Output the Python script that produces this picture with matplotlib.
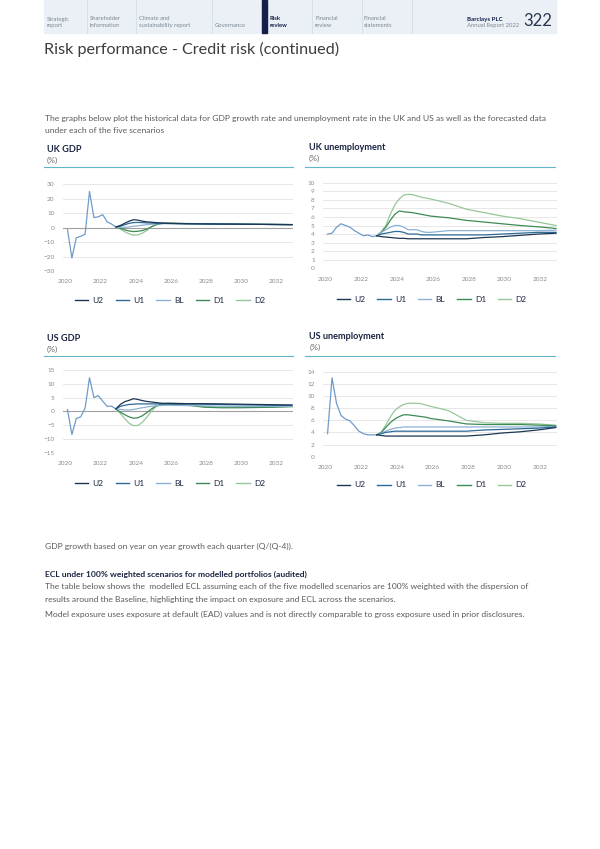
import numpy as np
import matplotlib
matplotlib.use('Agg')
import matplotlib.pyplot as plt
from matplotlib.patches import Rectangle
from matplotlib.lines import Line2D

plt.rcParams['font.family'] = ['Lato', 'DejaVu Sans']

scenarios = ['U2', 'U1', 'BL', 'D1', 'D2']
colours = {'U2': '#1c3553', 'U1': '#2d6a96', 'BL': '#8db2d6', 'D1': '#3d8a55', 'D2': '#96c799'}
hist_colour = '#6f9bc9'

# quarterly history 2020Q1-2022Q4, forecasts quarterly to 2025Q4 then yearly
hist_x = 2020.125 + 0.25 * np.arange(12)
fc_x = np.concatenate([2022.875 + 0.25 * np.arange(13), 2026.875 + np.arange(7)])

uk_gdp_hist = [-1.5, -21.0, -7.0, -6.0, -4.5, 25.0, 7.0, 7.5, 9.0, 4.0, 2.5, 0.5]
uk_gdp_u2 = [0.5, 1.5, 3.0, 4.5, 5.5, 5.2, 4.5, 4.0, 3.8, 3.5, 3.3, 3.1, 3.0, 2.7, 2.6, 2.5, 2.4, 2.3, 2.2, 2.1]
uk_gdp_u1 = [0.5, 1.0, 2.0, 3.0, 3.5, 3.6, 3.5, 3.3, 3.2, 3.0, 3.0, 2.9, 2.8, 2.7, 2.6, 2.5, 2.4, 2.3, 2.2, 2.1]
uk_gdp_bl = [0.5, 0.3, 0.2, 0.5, 1.0, 1.3, 1.7, 2.0, 2.3, 2.6, 2.8, 2.9, 2.9, 2.8, 2.7, 2.5, 2.4, 2.3, 2.2, 2.1]
uk_gdp_d1 = [0.5, -0.5, -1.5, -2.3, -2.7, -2.5, -2.0, -1.0, 0.5, 1.8, 2.6, 3.0, 3.0, 2.8, 2.7, 2.5, 2.4, 2.3, 2.2, 2.1]
uk_gdp_d2 = [0.5, -1.0, -2.8, -4.3, -5.2, -5.0, -3.8, -2.0, 0.5, 2.3, 3.0, 3.3, 3.2, 2.9, 2.7, 2.5, 2.4, 2.3, 2.2, 2.1]

uk_unemp_hist = [4.0, 4.1, 4.8, 5.2, 5.0, 4.8, 4.4, 4.1, 3.8, 3.9, 3.7, 3.8]
uk_unemp_u2 = [3.8, 3.7, 3.65, 3.6, 3.55, 3.5, 3.5, 3.45, 3.45, 3.45, 3.45, 3.45, 3.45, 3.45, 3.45, 3.6, 3.7, 3.85, 4.0, 4.1]
uk_unemp_u1 = [3.8, 4.0, 4.1, 4.2, 4.3, 4.3, 4.2, 4.0, 4.0, 4.0, 3.9, 3.9, 3.9, 3.9, 3.9, 3.9, 4.0, 4.1, 4.2, 4.2]
uk_unemp_bl = [3.8, 4.2, 4.5, 4.8, 5.0, 5.0, 4.8, 4.5, 4.5, 4.5, 4.3, 4.2, 4.2, 4.4, 4.4, 4.4, 4.4, 4.4, 4.4, 4.45]
uk_unemp_d1 = [3.8, 4.2, 4.8, 5.6, 6.3, 6.7, 6.6, 6.55, 6.5, 6.4, 6.3, 6.2, 6.1, 5.9, 5.6, 5.4, 5.2, 5.0, 4.85, 4.65]
uk_unemp_d2 = [3.8, 4.3, 5.0, 6.3, 7.4, 8.1, 8.55, 8.65, 8.6, 8.45, 8.3, 8.2, 8.1, 7.6, 6.9, 6.5, 6.1, 5.8, 5.4, 5.0]

us_gdp_hist = [0.6, -8.4, -2.6, -2.0, 1.2, 12.2, 5.0, 5.7, 3.7, 1.8, 1.9, 0.9]
us_gdp_u2 = [0.9, 2.5, 3.5, 4.0, 4.6, 4.3, 3.9, 3.6, 3.4, 3.2, 3.0, 2.9, 2.9, 2.8, 2.8, 2.7, 2.6, 2.5, 2.4, 2.3]
us_gdp_u1 = [0.9, 1.8, 2.2, 2.5, 2.6, 2.7, 2.7, 2.7, 2.7, 2.7, 2.7, 2.7, 2.7, 2.7, 2.6, 2.5, 2.4, 2.3, 2.2, 2.2]
us_gdp_bl = [0.9, 0.7, 0.5, 0.5, 0.7, 1.0, 1.3, 1.6, 1.8, 2.0, 2.1, 2.2, 2.2, 2.1, 2.0, 1.9, 1.8, 1.8, 1.8, 1.8]
us_gdp_d1 = [0.9, -0.3, -1.2, -2.0, -2.5, -2.3, -1.6, -0.5, 0.8, 1.8, 2.4, 2.6, 2.6, 2.3, 1.5, 1.3, 1.3, 1.4, 1.5, 1.7]
us_gdp_d2 = [0.9, -0.8, -2.6, -4.3, -5.2, -5.1, -4.0, -2.2, 0.0, 1.6, 2.5, 2.9, 3.0, 2.8, 1.8, 1.5, 1.5, 1.6, 1.7, 1.8]

us_unemp_hist = [3.8, 13.0, 8.8, 6.8, 6.2, 5.9, 5.1, 4.2, 3.8, 3.6, 3.6, 3.6]
us_unemp_u2 = [3.6, 3.5, 3.4, 3.4, 3.4, 3.4, 3.4, 3.4, 3.4, 3.4, 3.4, 3.4, 3.4, 3.4, 3.4, 3.6, 3.9, 4.1, 4.4, 4.8]
us_unemp_u1 = [3.6, 3.8, 4.0, 4.1, 4.2, 4.2, 4.2, 4.2, 4.2, 4.2, 4.2, 4.2, 4.2, 4.2, 4.2, 4.4, 4.5, 4.6, 4.7, 4.9]
us_unemp_bl = [3.6, 3.9, 4.2, 4.5, 4.7, 4.8, 4.9, 4.9, 4.9, 4.9, 4.9, 4.9, 4.9, 4.9, 4.9, 4.9, 4.9, 4.9, 4.9, 5.0]
us_unemp_d1 = [3.6, 4.0, 4.8, 5.6, 6.2, 6.6, 6.9, 6.9, 6.8, 6.7, 6.6, 6.5, 6.3, 5.9, 5.4, 5.3, 5.3, 5.3, 5.2, 5.1]
us_unemp_d2 = [3.6, 4.0, 5.2, 6.5, 7.6, 8.2, 8.6, 8.8, 8.8, 8.8, 8.7, 8.5, 8.3, 7.6, 6.0, 5.6, 5.5, 5.5, 5.4, 5.2]

year_ticks = [2020, 2022, 2024, 2026, 2028, 2030, 2032]

W, H = 600, 849


def fx(x):
    return x / W


def fy(y):
    return 1 - y / H


fig = plt.figure(figsize=(6, 8.49), dpi=100)

# header strip
fig.patches.append(Rectangle((fx(44), fy(33)), fx(512), 33 / H, transform=fig.transFigure,
                             color='#eaf0f6', zorder=0))
for sx in [87.3, 136, 211.7, 312.3, 362.3, 412]:
    fig.add_artist(Line2D([fx(sx), fx(sx)], [fy(0), fy(33)], color='#d3dde7', lw=0.6))
fig.patches.append(Rectangle((fx(261.7), fy(33)), fx(5), 33 / H, transform=fig.transFigure,
                             color='#13204a', zorder=1))
tabs = [('Strategic', 'report', 46.7), ('Shareholder', 'information', 90),
        ('Climate and', 'sustainability report', 139), ('', 'Governance', 215),
        ('Risk', 'review', 270), ('Financial', 'review', 315), ('Financial', 'statements', 364)]
for top, bottom, tx in tabs:
    bold = top == 'Risk'
    c = '#13204a' if bold else '#7d8894'
    w = 'bold' if bold else 'normal'
    if top:
        fig.text(fx(tx), fy(19), top, fontsize=4.2, color=c, weight=w, va='center')
    fig.text(fx(tx), fy(25.5), bottom, fontsize=4.2, color=c, weight=w, va='center')
fig.text(fx(466.7), fy(19), 'Barclays PLC', fontsize=4.4, color='#13204a', weight='bold', va='center')
fig.text(fx(466.7), fy(25.5), 'Annual Report 2022', fontsize=4.2, color='#7d8894', va='center')
fig.text(fx(551.7), fy(21), '322', fontsize=12, color='#2a3550', ha='right', va='center')

fig.text(fx(44), fy(49), 'Risk performance - Credit risk (continued)', fontsize=11.6,
         color='#3c3c3c', weight='normal', va='center')

fig.text(fx(45), fy(119), 'The graphs below plot the historical data for GDP growth rate and unemployment rate '
         'in the UK and US as well as the forecasted data', fontsize=6.1, color='#5a5a5a', va='center')
fig.text(fx(45), fy(130.5), 'under each of the five scenarios', fontsize=6.1, color='#5a5a5a', va='center')


def panel(rect, hist, series, ylim, yticks, title, tpos, line_y, line_x, legend_pos):
    ax = fig.add_axes(rect)
    ax.set_xlim(2019.87, 2032.93)
    ax.set_ylim(*ylim)
    ax.set_yticks(yticks)
    ax.set_xticks(year_ticks)
    ax.grid(axis='y', color='#e3e3e3', lw=0.6)
    ax.set_axisbelow(True)
    for sp in ax.spines.values():
        sp.set_visible(False)
    ax.tick_params(length=0, labelsize=4.6, labelcolor='#8a8a8a', pad=6)
    if ylim[0] < 0:
        ax.axhline(0, color='#a0a0a0', lw=0.8, zorder=1)
    ax.plot(hist_x, hist, color=hist_colour, lw=0.9, zorder=3)
    for name in ['D2', 'D1', 'BL', 'U1', 'U2']:
        ax.plot(fc_x, series[name], color=colours[name], lw=0.9, zorder=3)
    handles = [Line2D([], [], color=colours[n], lw=1.0) for n in scenarios]
    ax.legend(handles, scenarios, loc='center left', bbox_to_anchor=(fx(legend_pos[0]), fy(legend_pos[1])),
              bbox_transform=fig.transFigure, ncol=5, frameon=False, fontsize=6, handlelength=1.6,
              handletextpad=0.5, columnspacing=1.45, borderpad=0, borderaxespad=0, labelcolor='#1a2440')
    fig.text(fx(tpos[0]), fy(tpos[1]), title, fontsize=6.6, weight='bold', color='#1a2440', va='center')
    fig.text(fx(tpos[0]), fy(tpos[1] + 11), '(%)', fontsize=6, color='#6a6a6a', va='center')
    fig.add_artist(Line2D([fx(line_x[0]), fx(line_x[1])], [fy(line_y), fy(line_y)], color='#62b5c8', lw=0.8))
    return ax


panel([fx(63), fy(271), fx(230), (271 - 184.3) / H], uk_gdp_hist,
      {'U2': uk_gdp_u2, 'U1': uk_gdp_u1, 'BL': uk_gdp_bl, 'D1': uk_gdp_d1, 'D2': uk_gdp_d2},
      (-30, 30), range(-30, 31, 10), 'UK GDP', (46.7, 149), 166.7, (44, 293), (75, 300))
panel([fx(323), fy(268.3), fx(234), (268.3 - 182.7) / H], uk_unemp_hist,
      {'U2': uk_unemp_u2, 'U1': uk_unemp_u1, 'BL': uk_unemp_bl, 'D1': uk_unemp_d1, 'D2': uk_unemp_d2},
      (0, 10), range(0, 11), 'UK unemployment', (309, 147), 166.7, (305, 555), (336.7, 299.3))
panel([fx(63), fy(452.7), fx(230), (452.7 - 370) / H], us_gdp_hist,
      {'U2': us_gdp_u2, 'U1': us_gdp_u1, 'BL': us_gdp_bl, 'D1': us_gdp_d1, 'D2': us_gdp_d2},
      (-15, 15), range(-15, 16, 5), 'US GDP', (46.7, 338.3), 356, (44, 293), (75, 483))
panel([fx(323), fy(456.7), fx(233.7), (456.7 - 371.7) / H], us_unemp_hist,
      {'U2': us_unemp_u2, 'U1': us_unemp_u1, 'BL': us_unemp_bl, 'D1': us_unemp_d1, 'D2': us_unemp_d2},
      (0, 14), range(0, 15, 2), 'US unemployment', (309.3, 336.7), 356, (305, 555), (336.7, 485))

body = '#5a5a5a'
fig.text(fx(45), fy(546), 'GDP growth based on year on year growth each quarter (Q/(Q-4)).', fontsize=6.1,
         color=body, va='center')
fig.text(fx(45), fy(574), 'ECL under 100% weighted scenarios for modelled portfolios (audited)', fontsize=6.1,
         color='#1a2440', weight='bold', va='center')
fig.text(fx(45), fy(587), 'The table below shows the  modelled ECL assuming each of the five modelled scenarios '
         'are 100% weighted with the dispersion of', fontsize=6.1, color=body, va='center')
fig.text(fx(45), fy(599), 'results around the Baseline, highlighting the impact on exposure and ECL across the scenarios.',
         fontsize=6.1, color=body, va='center')
fig.text(fx(45), fy(614), 'Model exposure uses exposure at default (EAD) values and is not directly comparable to '
         'gross exposure used in prior disclosures.', fontsize=6.1, color=body, va='center')

fig.savefig('out.png', dpi=100)
